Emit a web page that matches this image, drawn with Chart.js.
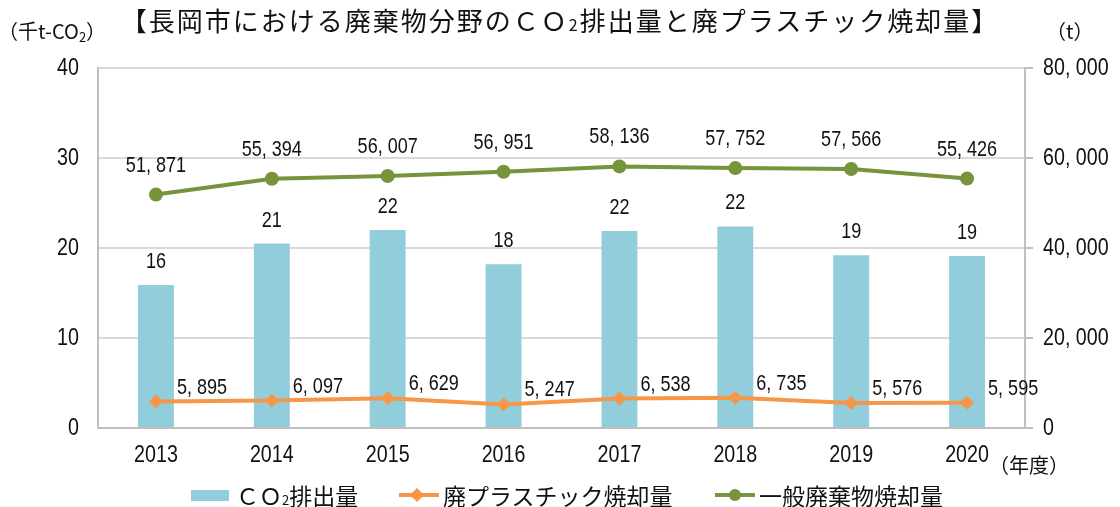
<!DOCTYPE html>
<html lang="ja">
<head>
  <meta charset="UTF-8" />
  <title>長岡市 廃棄物分野のCO2排出量と廃プラスチック焼却量</title>
  <script src="https://cdn.jsdelivr.net/npm/chart.js"></script>
  <style>
    body {
      margin: 0;
      background: #fff;
      font-family: 'Noto Sans CJK JP', sans-serif;
      color: #111;
    }
    .wrap {
      position: relative;
      width: 1120px;
      height: 507px;
    }
    canvas { position: absolute; left: 0; top: 0; }
    .title {
      position: absolute;
      left: 0;
      width: 1120px;
      top: 3px;
      text-align: center;
      font-size: 26px;
      letter-spacing: 2px;
      line-height: 34px;
    }
    .unit {
      position: absolute;
      font-size: 20px;
      line-height: 24px;
      white-space: nowrap;
    }
    .unit sub { font-size: 13px; vertical-align: -3px; }
    .title sub { font-size: 16px; vertical-align: 0; }
    .legend {
      position: absolute;
      top: 481px;
      left: 0;
      height: 28px;
      font-size: 23px;
      line-height: 28px;
    }
    .legend .item { position: absolute; top: 0; white-space: nowrap; }
    .legend sub { font-size: 13px; vertical-align: 0; }
    .swatch-bar {
      position: absolute; top: 9px; width: 38px; height: 11px;
    }
    .swatch-line {
      position: absolute; top: 12px; width: 40px; height: 4px;
    }
    .dot { position: absolute; }
  </style>
</head>
<body>
  <div class="wrap">
    <canvas id="co2Chart" width="1120" height="507"></canvas>
    <div class="title">【長岡市における廃棄物分野のＣＯ<sub>2</sub>排出量と廃プラスチック焼却量】</div>
    <div class="unit" style="left:-2px; top:19px;">（千t-CO<sub>2</sub>）</div>
    <div class="unit" style="left:1046px; top:19px;">（t）</div>
    <div class="unit" style="left:989px; top:453px;">（年度）</div>

    <div class="legend">
      <div class="swatch-bar" style="left:191px; background:#92cddc;"></div>
      <div class="item" style="left:236px;">ＣＯ<sub>2</sub>排出量</div>

      <div class="swatch-line" style="left:399px; background:#f79646;"></div>
      <div class="dot" style="left:412px; top:9px; width:10px; height:10px; background:#f79646; transform:rotate(45deg);"></div>
      <div class="item" style="left:443px;">廃プラスチック焼却量</div>

      <div class="swatch-line" style="left:715px; background:#77933c;"></div>
      <div class="dot" style="left:729px; top:8px; width:12px; height:12px; border-radius:50%; background:#77933c;"></div>
      <div class="item" style="left:759px;">一般廃棄物焼却量</div>
    </div>
  </div>

  <script>
    const years = ['2013', '2014', '2015', '2016', '2017', '2018', '2019', '2020'];
    // 千t-CO2
    const co2Emissions = [15.9, 20.5, 22.0, 18.2, 21.9, 22.4, 19.2, 19.1];
    // t
    const plasticIncinerated = [5895, 6097, 6629, 5247, 6538, 6735, 5576, 5595];
    const generalIncinerated = [51871, 55394, 56007, 56951, 58136, 57752, 57566, 55426];

    const leftTicks = [0, 10, 20, 30, 40];
    const rightTicks = [0, 20000, 40000, 60000, 80000];

    const NUM_FONT = "'Liberation Sans', Arial, sans-serif";
    const NARROW = 0.82;

    // "51,871" -> "51, 871"
    function fmt(n) {
      return n.toLocaleString('en-US').replace(/,/g, ', ');
    }

    // narrow-looking numerals: squeeze the text horizontally
    function narrowText(ctx, text, x, y, align, size) {
      ctx.save();
      ctx.translate(x, y);
      ctx.scale(NARROW, 1);
      ctx.font = size + 'px ' + NUM_FONT;
      ctx.textAlign = align;
      ctx.textBaseline = 'middle';
      ctx.fillText(text, 0, 0);
      ctx.restore();
    }

    // axis numbers drawn from the chart's own scales
    const axisLabels = {
      id: 'axisLabels',
      afterDraw(chart) {
        const ctx = chart.ctx;
        const { x, y, y1 } = chart.scales;
        ctx.save();
        ctx.fillStyle = '#111';
        years.forEach((lab, i) => {
          narrowText(ctx, lab, x.getPixelForValue(i), 455, 'center', 24);
        });
        leftTicks.forEach(v => {
          narrowText(ctx, String(v), 79, y.getPixelForValue(v), 'right', 24);
        });
        rightTicks.forEach(v => {
          narrowText(ctx, fmt(v), 1043, y1.getPixelForValue(v), 'left', 24);
        });
        ctx.restore();
      }
    };

    // value labels next to each mark
    const valueLabels = {
      id: 'valueLabels',
      afterDatasetsDraw(chart) {
        const ctx = chart.ctx;
        ctx.save();
        ctx.fillStyle = '#111';
        chart.data.datasets.forEach((ds, i) => {
          const meta = chart.getDatasetMeta(i);
          meta.data.forEach((el, j) => {
            const v = ds.data[j];
            if (ds.type === 'bar') {
              narrowText(ctx, String(Math.round(v)), el.x, el.y - 23, 'center', 22);
            } else if (ds.key === 'plastic') {
              narrowText(ctx, fmt(v), el.x + 21, el.y - 14, 'left', 22);
            } else {
              narrowText(ctx, fmt(v), el.x, el.y - 29, 'center', 22);
            }
          });
        });
        ctx.restore();
      }
    };

    new Chart(document.getElementById('co2Chart'), {
      data: {
        labels: years,
        datasets: [
          {
            type: 'line',
            key: 'general',
            label: '一般廃棄物焼却量',
            data: generalIncinerated,
            yAxisID: 'y1',
            borderColor: '#77933c',
            backgroundColor: '#77933c',
            borderWidth: 4,
            pointStyle: 'circle',
            pointRadius: 7,
            pointBorderWidth: 0,
            tension: 0,
            order: 1
          },
          {
            type: 'line',
            key: 'plastic',
            label: '廃プラスチック焼却量',
            data: plasticIncinerated,
            yAxisID: 'y1',
            borderColor: '#f79646',
            backgroundColor: '#f79646',
            borderWidth: 4,
            pointStyle: 'rectRot',
            pointRadius: 7,
            pointBorderWidth: 0,
            tension: 0,
            order: 2
          },
          {
            type: 'bar',
            label: 'ＣＯ₂排出量',
            data: co2Emissions,
            yAxisID: 'y',
            backgroundColor: '#92cddc',
            barPercentage: 0.62,
            categoryPercentage: 0.5,
            order: 3
          }
        ]
      },
      options: {
        responsive: false,
        animation: false,
        layout: { padding: { top: 68, left: 0, right: 0, bottom: 0 } },
        plugins: {
          legend: { display: false },
          tooltip: { enabled: false },
          title: { display: false }
        },
        scales: {
          x: {
            grid: { display: false },
            border: { color: '#bfbfbf', width: 2 },
            ticks: { display: false },
            afterFit: s => { s.height = 79; }
          },
          y: {
            position: 'left',
            min: 0,
            max: 40,
            afterBuildTicks: s => { s.ticks = leftTicks.map(v => ({ value: v })); },
            grid: { color: '#d9d9d9', lineWidth: 2, drawTicks: false },
            border: { color: '#bfbfbf', width: 2 },
            ticks: { display: false },
            afterFit: s => { s.width = 98; }
          },
          y1: {
            position: 'right',
            min: 0,
            max: 80000,
            afterBuildTicks: s => { s.ticks = rightTicks.map(v => ({ value: v })); },
            grid: { drawOnChartArea: false, color: '#bfbfbf', tickLength: 8, lineWidth: 2 },
            border: { color: '#bfbfbf', width: 2 },
            ticks: { display: false },
            afterFit: s => { s.width = 95; }
          }
        }
      },
      plugins: [valueLabels, axisLabels]
    });
  </script>
</body>
</html>
